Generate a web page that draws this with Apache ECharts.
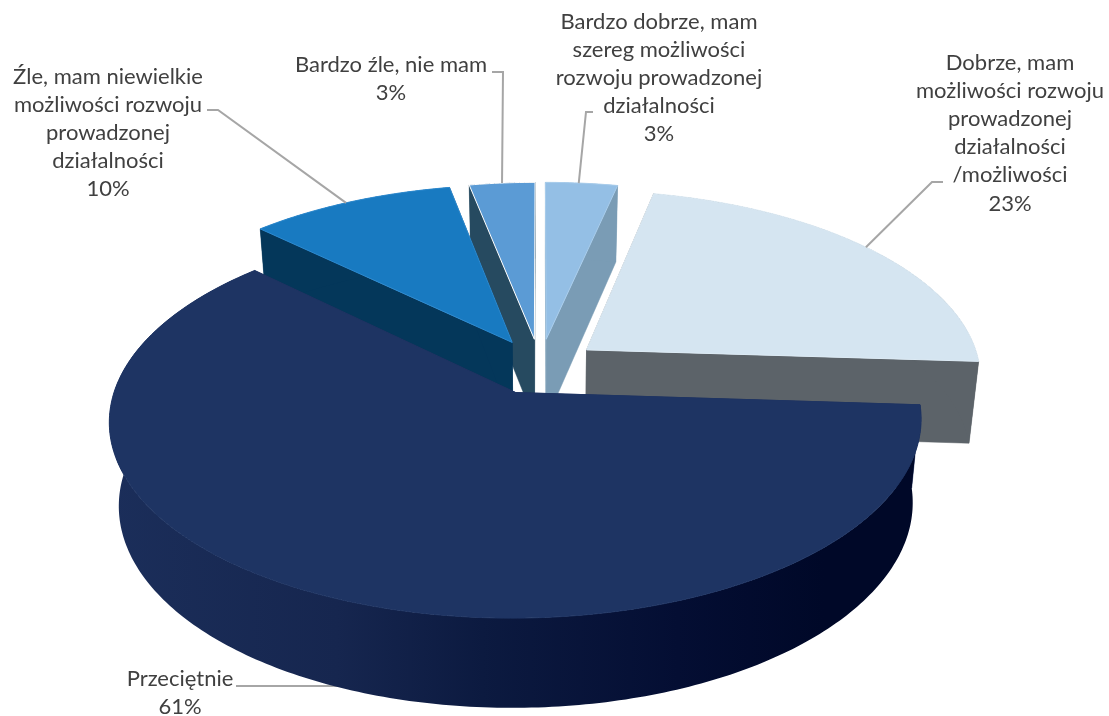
<!DOCTYPE html>
<html>
<head>
<meta charset="utf-8">
<style>html,body{margin:0;padding:0;background:#fff}#c{width:1109px;height:716px}</style>
<script src="https://cdn.jsdelivr.net/npm/echarts@6/dist/echarts.min.js"></script>
</head>
<body>
<div id="c"></div>
<script>
// ---- data ----
const categories = [
  "Bardzo dobrze, mam\nszereg możliwości\nrozwoju prowadzonej\ndziałalności",
  "Dobrze, mam\nmożliwości rozwoju\nprowadzonej\ndziałalności\n/możliwości",
  "Przeciętnie",
  "Źle, mam niewielkie\nmożliwości rozwoju\nprowadzonej\ndziałalności",
  "Bardzo źle, nie mam"
];
const values = [3.4, 22.6, 61.2, 9.7, 3.1];

// ---- styles ----
const topColors  = ["#94BFE5", "#D5E5F1", "#1E3463", "#187AC1", "#5B9BD5"];
const edgeColors = ["#A9CDEC", "#DDEBF5", "#1E3463", "#2D8AD0", "#FFFFFF"];
const wallColors = ["#7A9CB5", "#5C6369", "#1A2B58", "#04375A", "#264A60"];
const paintRank  = [2, 3, 5, 4, 1];
// label centre, leader elbow points and where on the slice's rim the leader lands
const labelCentres = [[659, 78], [1010, 133], [180, 693], [108, 133], [391, 79]];
const leaderElbows = [[[593,112],[586,112]], [[943,182],[932,182]], [[236,686]], [[207,110],[218,110]], [[492,72],[503,72]]];
const leaderFrac   = [0.46, 0.49, 0.495, 0.48, 0.5];

// ---- 3D projection of the pie plane ----
const CX = 540, CY = 366.5, R = 394, RA = 186, K = 0.14, EXPL = 0.15, WALL = 82, BOT = 0.978;
function project(u, v) {
  const s = 1 / (1 + K * v);
  return { x: CX + R * u * s, y: CY - RA * v * s, s };
}
function down(p) {
  return [CX + (p.x - CX) * BOT, p.y + WALL * (1 + 0.5 * (p.s - 1))];
}

const total = values.reduce((a, b) => a + b, 0);
const renderItem = (params, api) => {
  const i = params.dataIndex;
  let before = 0;
  for (let j = 0; j < i; j++) before += values[j];
  const a0 = before / total * Math.PI * 2;
  const a1 = (before + api.value(0)) / total * Math.PI * 2;
  const mid = (a0 + a1) / 2;
  const ex = EXPL * Math.sin(mid), ey = EXPL * Math.cos(mid);
  const at = t => project(ex + Math.sin(t), ey + Math.cos(t));
  const apex = project(ex, ey);
  const n = Math.max(2, Math.ceil((a1 - a0) / 0.015));
  const rim = [];
  for (let k = 0; k <= n; k++) rim.push(at(a0 + (a1 - a0) * k / n));
  const rank = paintRank[i] * 10;
  const pt = p => [p.x, p.y];
  const children = [];

  // radial walls
  [rim[0], rim[n]].forEach(p => children.push({
    type: 'polygon', z2: rank,
    shape: { points: [pt(apex), pt(p), down(p), down(apex)] },
    style: { fill: wallColors[i], stroke: wallColors[i], lineWidth: 0.5 }
  }));
  // curved wall
  const wallPts = rim.map(pt).concat(rim.slice().reverse().map(down));
  const curvedFill = i === 2
    ? new echarts.graphic.LinearGradient(0, 0, 1, 0, [
        { offset: 0, color: '#1B2E5A' },
        { offset: 0.28, color: '#16264F' },
        { offset: 0.46, color: '#0C1A40' },
        { offset: 0.7, color: '#040E33' },
        { offset: 0.88, color: '#000828' },
        { offset: 1, color: '#000828' }
      ])
    : wallColors[i];
  children.push({ type: 'polygon', z2: rank + 1, shape: { points: wallPts }, style: { fill: curvedFill } });
  // top face
  children.push({
    type: 'polygon', z2: rank + 2,
    shape: { points: [pt(apex)].concat(rim.map(pt)) },
    style: { fill: topColors[i], stroke: edgeColors[i], lineWidth: 1, lineJoin: 'round' }
  });

  // leader line
  const land = at(a0 + (a1 - a0) * leaderFrac[i]);
  const elbows = leaderElbows[i];
  const landPt = i === 2 ? [down(land)[0], elbows[0][1]] : pt(land);
  children.push({
    type: 'polyline', z2: i === 2 ? 5 : 60,
    shape: { points: elbows.concat([landPt]) },
    style: { stroke: '#A6A6A6', lineWidth: 2, fill: 'none' }
  });
  // label
  children.push({
    type: 'text', z2: 70,
    style: {
      x: labelCentres[i][0], y: labelCentres[i][1],
      text: categories[i] + '\n' + Math.round(api.value(0)) + '%',
      textAlign: 'center', textVerticalAlign: 'middle',
      fontFamily: 'Lato', fontSize: 22, lineHeight: 28.2, fill: '#404040'
    }
  });
  return { type: 'group', children };
};

const chart = echarts.init(document.getElementById('c'), null, { renderer: 'canvas' });
chart.setOption({
  animation: false,
  backgroundColor: '#ffffff',
  series: [{
    type: 'custom',
    coordinateSystem: 'none',
    renderItem,
    data: values.map(v => [v]),
    silent: true
  }]
});
</script>
</body>
</html>
